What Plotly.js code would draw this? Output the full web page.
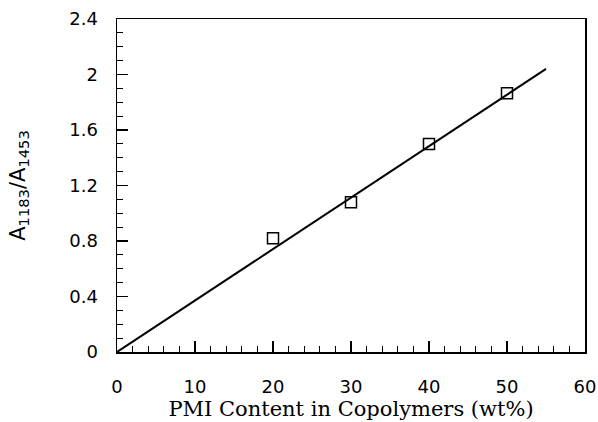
<!DOCTYPE html>
<html>
<head>
<meta charset="utf-8">
<script src="https://cdn.plot.ly/plotly-3.0.1.min.js"></script>
<style>body{margin:0;padding:0;background:#fff;}#chart{width:598px;height:422px;}</style>
</head>
<body>
<div id="chart"></div>
<script>
const pmiContent = [20, 30, 40, 50];
const absRatio = [0.82, 1.08, 1.50, 1.865];
const fitX = [0, 55];
const fitY = [0, 2.04];
const xTicks = [0, 10, 20, 30, 40, 50, 60];
const xTickText = ['0', '10', '20', '30', '40', '50', '60'];
const yTicks = [0, 0.4, 0.8, 1.2, 1.6, 2, 2.4];
const yTickText = ['0', '0.4', '0.8', '1.2', '1.6', '2', '2.4'];

const traces = [
  {x: fitX, y: fitY, mode: 'lines', type: 'scatter', line: {color: '#000', width: 2}, hoverinfo: 'skip', showlegend: false},
  {x: pmiContent, y: absRatio, mode: 'markers', type: 'scatter',
   marker: {symbol: 'square-open', size: 11, color: '#000', line: {width: 1.5, color: '#000'}}, showlegend: false}
];

const tickFont = {family: 'DejaVu Sans, Verdana, sans-serif', size: 18, color: '#000'};
const layout = {
  width: 598, height: 422,
  margin: {l: 117, r: 13, t: 19, b: 70},
  paper_bgcolor: '#fff', plot_bgcolor: '#fff',
  xaxis: {
    range: [0, 60], tickvals: xTicks, ticktext: xTickText,
    ticks: 'inside', ticklen: 11, tickwidth: 1.2, tickcolor: '#000',
    minor: {dtick: 2, ticks: 'inside', ticklen: 6, tickwidth: 1, tickcolor: '#000'},
    showline: true, linecolor: '#000', linewidth: 1.5, mirror: true,
    showgrid: false, zeroline: false, tickfont: tickFont, ticklabelstandoff: 18,
    title: {text: 'PMI Content in Copolymers (wt%)', font: {family: 'DejaVu Serif, serif', size: 21, color: '#000'}, standoff: 3}
  },
  yaxis: {
    range: [0, 2.4], tickvals: yTicks, ticktext: yTickText,
    ticks: 'inside', ticklen: 11, tickwidth: 1.2, tickcolor: '#000',
    minor: {dtick: 0.1, ticks: 'inside', ticklen: 6, tickwidth: 1, tickcolor: '#000'},
    showline: true, linecolor: '#000', linewidth: 1.5, mirror: true,
    showgrid: false, zeroline: false, tickfont: tickFont, ticklabelstandoff: 14,
    title: {text: 'A<sub>1183</sub>/A<sub>1453</sub>', font: {family: 'DejaVu Sans, Verdana, sans-serif', size: 21, color: '#000'}, standoff: 38}
  }
};
Plotly.newPlot('chart', traces, layout, {displayModeBar: false, staticPlot: true});
</script>
</body>
</html>
